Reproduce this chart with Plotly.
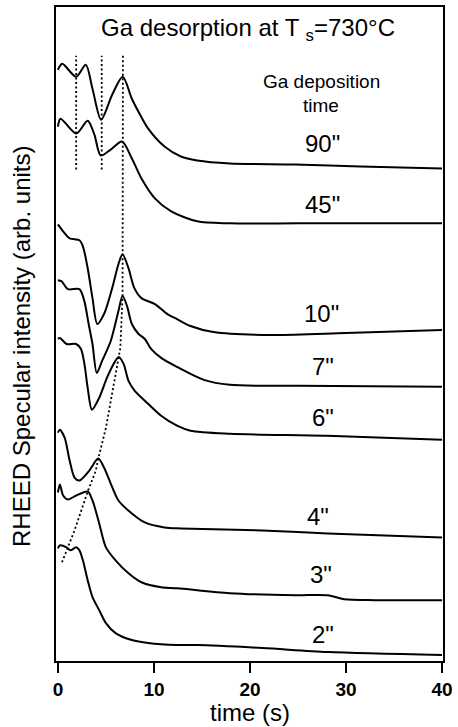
import plotly.graph_objects as go

# RHEED specular intensity transients (arb. units, curves stacked) vs time (s)
t_90 = [0, 0.45, 1.9, 2.9, 3.6, 4.5, 5.65, 6.75, 7.7, 8.5, 9.4, 11.1, 12.8, 14.5, 17.9, 24.7, 31.5, 40]
i_90 = [593, 599, 586, 598, 574, 543, 568, 586, 564, 549, 534, 516, 506, 502, 499, 498, 496, 494]

t_45 = [0, 0.27, 1.9, 3.1, 3.8, 4.46, 5.5, 6.67, 7.7, 8.7, 10.1, 11.8, 14.5, 17.9, 25, 33, 40]
i_45 = [536, 544, 529, 542, 528, 507, 513, 521, 504, 484, 464, 451, 441, 439, 439, 439, 439]

t_10 = [0, 0.54, 1.22, 2.24, 2.6, 3.1, 3.6, 4.1, 4.8, 5.65, 6.3, 6.73, 7.35, 7.96, 8.7, 10.1, 11.4, 12.4, 13.8, 16.2, 22.3, 30, 40]
i_10 = [438, 431, 424, 422, 416, 394, 364, 338, 348, 374, 398, 408, 394, 374, 364, 358, 348, 343, 336, 330, 327, 329, 332]

t_7 = [0, 0.37, 1.05, 2.24, 2.75, 3.2, 3.6, 4.05, 4.6, 5.5, 6.3, 6.73, 7.2, 7.7, 8.4, 9.05, 9.7, 10.75, 12.4, 15.2, 17.9, 25, 40]
i_7 = [382, 381, 373, 373, 361, 338, 318, 289, 301, 321, 351, 366, 356, 338, 328, 323, 313, 304, 295, 282, 277, 276, 275]

t_6 = [0, 0.2, 0.9, 1.9, 2.4, 2.76, 3.1, 3.54, 4.3, 5.1, 5.8, 6.33, 6.84, 7.35, 8.0, 9.4, 10.75, 12.4, 13.8, 17.9, 28, 40]
i_6 = [323, 324, 318, 318, 313, 298, 274, 252, 264, 284, 298, 305, 298, 281, 271, 258, 246, 236, 231, 228, 226, 222]

t_4 = [0, 0.2, 0.7, 1.22, 1.73, 2.24, 3.27, 4.2, 4.8, 5.5, 6.3, 7.7, 9.05, 11.1, 12.8, 21.3, 28.1, 40]
i_4 = [229, 232, 224, 201, 184, 181, 191, 203, 194, 178, 161, 148, 139, 134, 133, 131, 128, 124]

t_3 = [0, 0.2, 0.54, 1.05, 1.9, 3.1, 3.6, 4.3, 5.0, 6.0, 7.35, 8.7, 10.75, 12.4, 17.9, 24.7, 28.1, 29.8, 33, 40]
i_3 = [169, 177, 166, 162, 166, 170, 161, 138, 114, 101, 88, 79, 74, 73, 68, 66, 66, 62, 61, 61]

t_2 = [0, 0.2, 0.9, 1.3, 1.9, 2.24, 2.6, 3.1, 3.6, 4.3, 5.0, 6.0, 7.7, 9.4, 12.4, 14.5, 21.3, 28.1, 40]
i_2 = [113, 116, 114, 111, 114, 111, 101, 81, 64, 51, 38, 28, 21, 18, 16, 16, 13, 9, 6]

# Ga deposition time labels and their anchor points (t, intensity)
dep_labels = ['90"', '45"', '10"', '7"', '6"', '4"', '3"', '2"']
label_t = [27.6, 27.6, 27.4, 27.6, 27.6, 27.1, 27.4, 27.6]
label_i = [519, 458, 349, 295, 244, 145, 87, 27]

# Dotted guides through the oscillation extrema
guide_t1 = [1.9, 1.9]
guide_t2 = [4.56, 4.56]
guide_i12 = [493, 607]
guide_peak_t = [6.77, 6.73, 6.5, 6.33, 5.65, 5.0, 4.2, 3.95, 3.1, 1.73, 0.38]
guide_peak_i = [607, 366, 314, 305, 268, 234, 203, 191, 170, 131, 98]

curves = [(t_90, i_90), (t_45, i_45), (t_10, i_10), (t_7, i_7),
          (t_6, i_6), (t_4, i_4), (t_3, i_3), (t_2, i_2)]

FONT = "Liberation Sans, Arial, Helvetica, sans-serif"

fig = go.Figure()
for tt, ii in curves:
    fig.add_trace(go.Scatter(x=tt, y=ii, mode="lines",
                             line=dict(color="black", width=2, shape="spline", smoothing=0.8),
                             showlegend=False, hoverinfo="skip"))

dot = dict(color="black", width=1.8, dash="2px,2.5px")
for gx, gy in [(guide_t1, guide_i12), (guide_t2, guide_i12), (guide_peak_t, guide_peak_i)]:
    fig.add_trace(go.Scatter(x=gx, y=gy, mode="lines", line=dot,
                             showlegend=False, hoverinfo="skip"))

annotations = []
for txt, lx, ly in zip(dep_labels, label_t, label_i):
    annotations.append(dict(x=lx, y=ly, xref="x", yref="y", text=txt, showarrow=False,
                            font=dict(family=FONT, size=24, color="black"),
                            xanchor="center", yanchor="middle"))

annotations += [
    dict(x=27.4, y=581, xref="x", yref="y", text="Ga deposition", showarrow=False,
         font=dict(family=FONT, size=19, color="black"), xanchor="center", yanchor="middle"),
    dict(x=27.4, y=557, xref="x", yref="y", text="time", showarrow=False,
         font=dict(family=FONT, size=19, color="black"), xanchor="center", yanchor="middle"),
    dict(x=19.8, y=633, xref="x", yref="y", text="Ga desorption at T <sub>s</sub>=730°C",
         showarrow=False, font=dict(family=FONT, size=24, color="black"),
         xanchor="center", yanchor="middle"),
    dict(x=0, y=0.5, xref="paper", yref="paper", xshift=-35, yshift=-13,
         text="RHEED Specular intensity (arb. units)",
         textangle=-90, showarrow=False, font=dict(family=FONT, size=24, color="black"),
         xanchor="center", yanchor="middle"),
    dict(x=20, y=0, xref="x", yref="paper", yshift=-51, text="time (s)", showarrow=False,
         font=dict(family=FONT, size=24, color="black"), xanchor="center", yanchor="middle"),
]

fig.update_layout(
    width=458, height=727,
    margin=dict(l=56, r=7, t=5, b=66),
    paper_bgcolor="white", plot_bgcolor="white",
    annotations=annotations,
    xaxis=dict(range=[-0.2, 40.1], tickvals=[0, 10, 20, 30, 40], ticks="outside",
               ticklen=10, tickwidth=2, tickcolor="black", ticklabeloverflow="allow",
               tickfont=dict(family=FONT, size=19, color="black", weight="bold"),
               showline=True, linecolor="black", linewidth=2, mirror=True,
               showgrid=False, zeroline=False),
    yaxis=dict(range=[0, 656], showticklabels=False, ticks="",
               showline=True, linecolor="black", linewidth=2, mirror=True,
               showgrid=False, zeroline=False),
)

fig.write_html("out.html")
